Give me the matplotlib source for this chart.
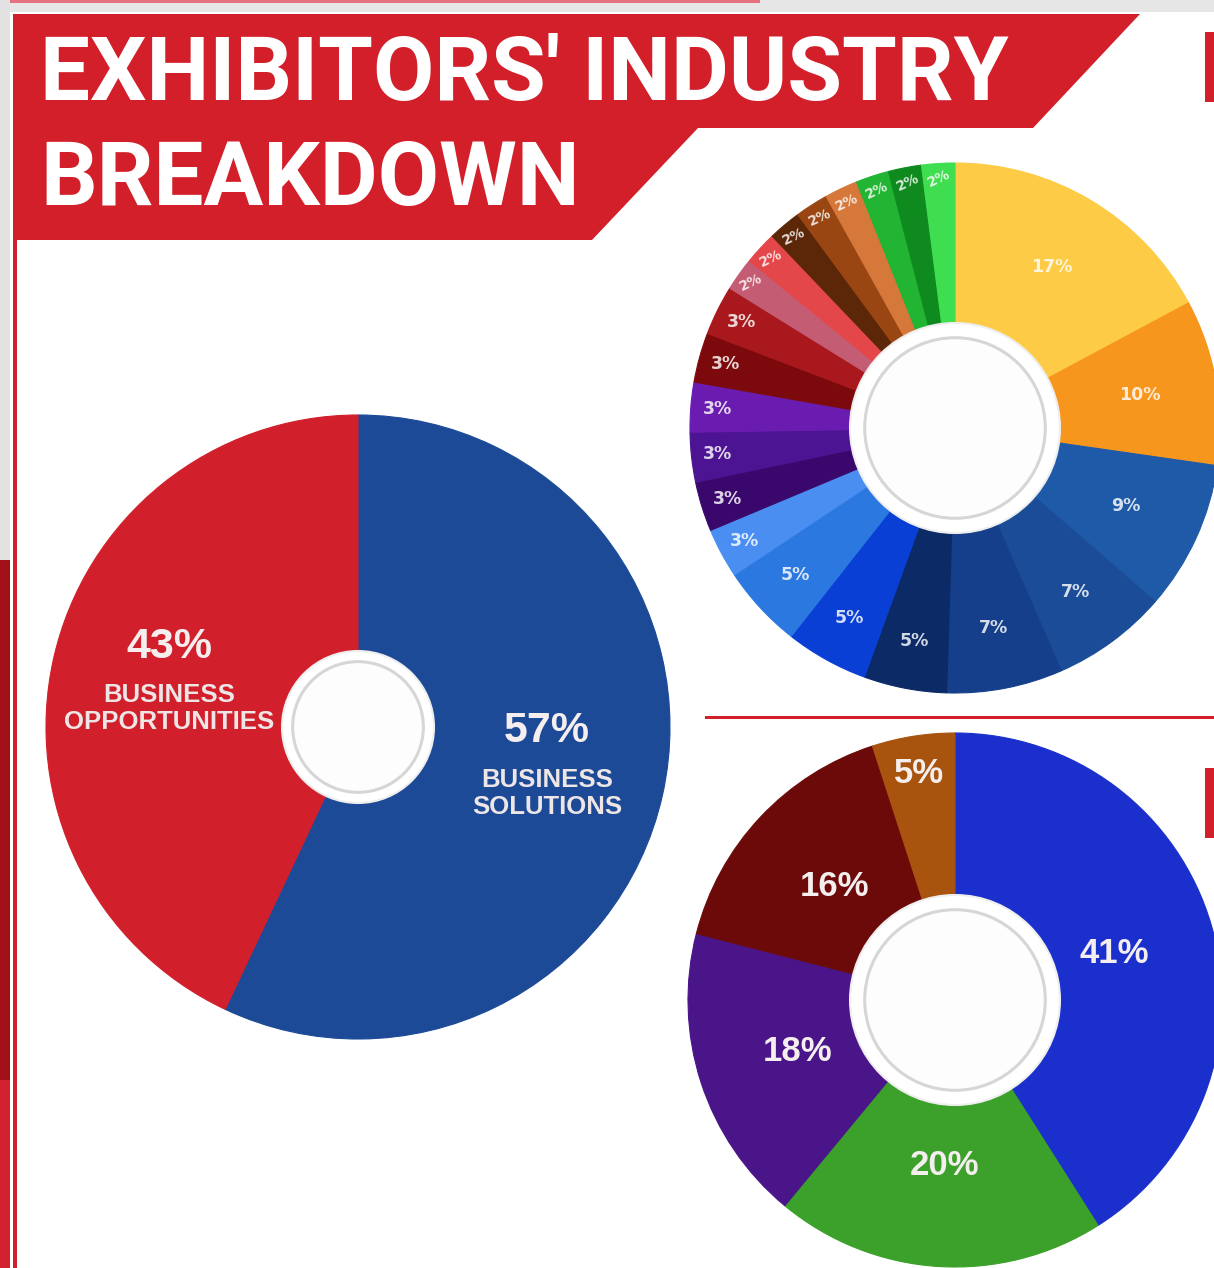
import matplotlib.pyplot as plt
from matplotlib.patches import Polygon, Circle, Rectangle
import numpy as np

W, H = 1214, 1268

# --- data ---
title_lines = ["EXHIBITORS' INDUSTRY", "BREAKDOWN"]

split_names = ['BUSINESS\nSOLUTIONS', 'BUSINESS\nOPPORTUNITIES']
split_values = [57, 43]
split_colors = ['#1c4a97', '#d11f2b']

industry_values = [17, 10, 9, 7, 7, 5, 5, 5, 3, 3, 3, 3, 3, 3, 2, 2, 2, 2, 2, 2, 2, 2]
industry_colors = ['#fdcb45', '#f7961c', '#1f5aa8', '#1b4c98', '#153f8a', '#0c2a66',
                   '#0a3fd6', '#2b78e0', '#4a8ef2', '#3a086c', '#4c1492', '#6a1bb0',
                   '#7c0a0c', '#a8181c', '#c45c74', '#e4474a', '#5c2708', '#9a4612',
                   '#d5783a', '#22b433', '#0f8a1f', '#3fdd50']

size_values = [41, 20, 18, 16, 5]
size_colors = ['#1a2fcc', '#3ba12a', '#4a1589', '#6c0a0a', '#a8540f']

RED = '#d21f2a'


def iy(y):
    # image row -> data y
    return H - y


fig = plt.figure(figsize=(W / 100, H / 100), dpi=100)
ax = fig.add_axes([0, 0, 1, 1])
fig.patch.set_facecolor('white')


def donut(values, colors, cx, cy, r, hole):
    wedges, _ = ax.pie(values, colors=colors, startangle=90, counterclock=False,
                       radius=r, center=(cx, iy(cy)), wedgeprops=dict(linewidth=0.8))
    for w in wedges:
        w.set_edgecolor(w.get_facecolor())
    ax.add_patch(Circle((cx, iy(cy)), hole, fc='white', ec='#eeeeee', lw=1.5, zorder=3))
    ax.add_patch(Circle((cx, iy(cy)), hole * 0.86, fc='#fdfdfd', ec='#d6d6d6', lw=2.2, zorder=4))
    return wedges


def mid_point(w, frac):
    ang = np.deg2rad((w.theta1 + w.theta2) / 2)
    return (w.center[0] + frac * w.r * np.cos(ang), w.center[1] + frac * w.r * np.sin(ang))


# --- page decorations ---
ax.add_patch(Rectangle((0, iy(12)), W, 12, fc='#e6e6e6', ec='none'))
ax.add_patch(Rectangle((0, iy(3)), 760, 3, fc='#e77080', ec='none'))
ax.add_patch(Rectangle((0, 0), 10, H, fc='#e2e2e2', ec='none'))
ax.add_patch(Rectangle((0, iy(1080)), 10, 520, fc='#a3101a', ec='none'))
ax.add_patch(Rectangle((0, 0), 10, iy(1080), fc='#d42030', ec='none'))
ax.add_patch(Rectangle((13, 0), 4, iy(15), fc=RED, ec='none'))
banner = [(13, 14), (1140, 14), (1033, 128), (698, 128), (592, 240), (13, 240)]
ax.add_patch(Polygon([(x, iy(y)) for x, y in banner], closed=True, fc=RED, ec='none'))
ax.add_patch(Rectangle((705, iy(719)), W - 705, 3, fc=RED, ec='none'))
ax.add_patch(Rectangle((1205, iy(102)), 9, 70, fc=RED, ec='none'))
ax.add_patch(Rectangle((1205, iy(838)), 9, 70, fc=RED, ec='none'))

title_font = ['Roboto', 'DejaVu Sans']
ax.text(40, iy(100), title_lines[0], color='white', fontsize=64, fontweight='bold',
        family=title_font, va='baseline', ha='left')
ax.text(40, iy(205), title_lines[1], color='white', fontsize=64, fontweight='bold',
        family=title_font, va='baseline', ha='left')

# --- left donut: business split ---
wl = donut(split_values, split_colors, 358, 727, 312, 76)
for w, v, name in zip(wl, split_values, split_names):
    x, y = mid_point(w, 0.62)
    ax.text(x, y + 38, f'{v}%', color='#f6eeee', fontsize=31, fontweight='bold',
            family=['Liberation Sans', 'DejaVu Sans'], ha='center', va='center', zorder=5)
    ax.text(x, y - 24, name, color='#eee6e6', fontsize=18.5, fontweight='bold',
            family=['Liberation Sans', 'DejaVu Sans'], ha='center', va='center',
            linespacing=1.15, zorder=5)

# --- top right donut: industries ---
wi = donut(industry_values, industry_colors, 955, 428, 265, 105)
for w, v in zip(wi, industry_values):
    if v >= 9:
        frac, fs = 0.71, 12.5
    elif v >= 7:
        frac, fs = 0.77, 12.5
    elif v >= 5:
        frac, fs = 0.82, 12.5
    elif v >= 3:
        frac, fs = 0.9, 12.5
    else:
        frac, fs = 0.945, 10
    x, y = mid_point(w, frac)
    ax.text(x, y, f'{v}%', color='white', alpha=0.82, fontsize=fs, fontweight='bold',
            ha='center', va='center', rotation=25 if v == 2 else 0, zorder=5)

# --- bottom right donut ---
ws = donut(size_values, size_colors, 955, 1000, 267, 105)
for w, v in zip(ws, size_values):
    frac = 0.86 if v <= 5 else 0.62
    x, y = mid_point(w, frac)
    ax.text(x, y, f'{v}%', color='#f4eeee', fontsize=25, fontweight='bold',
            family=['Liberation Sans', 'DejaVu Sans'], ha='center', va='center', zorder=5)

ax.set_aspect('equal')
ax.set_xlim(0, W)
ax.set_ylim(0, H)
ax.axis('off')

fig.savefig('out.png', dpi=100)
